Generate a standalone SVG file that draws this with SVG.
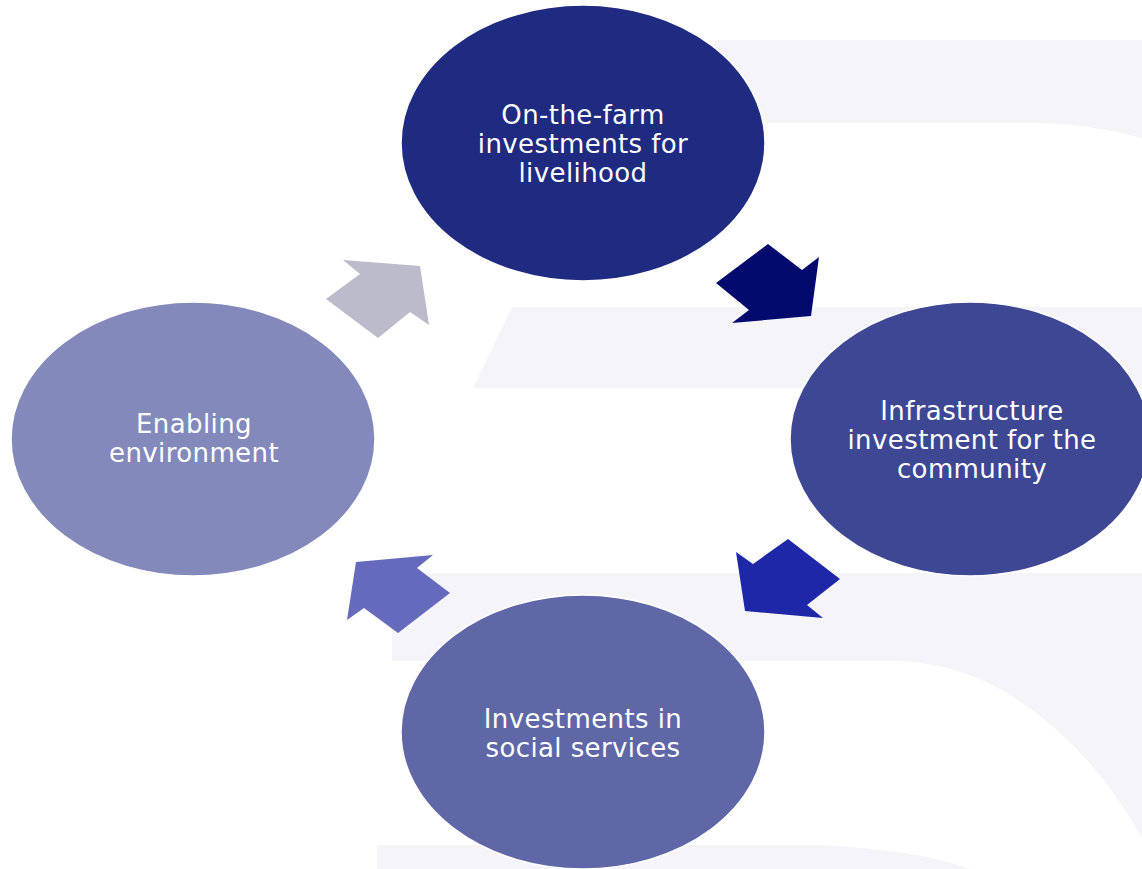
<svg xmlns="http://www.w3.org/2000/svg" width="1142" height="869" viewBox="0 0 1142 869">
<style>
.bg{fill:#f5f5f9}
.node{stroke:#ffffff;stroke-width:1.5}
.lbl{font-family:"DejaVu Sans",Verdana,sans-serif;font-size:26px;letter-spacing:0.4px;fill:#ffffff;text-anchor:middle}
</style>
<rect width="1142" height="869" fill="#ffffff"/>
<g id="watermark">
<path class="bg" d="M716,40 L1142,40 L1142,138 Q1090,124 1040,123 L690,123 Z"/>
<path class="bg" d="M512,307 L1142,307 L1142,388 L473,388 Z"/>
<path class="bg" d="M392,573 L1142,573 L1142,838 Q1090,745 1010,695 Q960,664 900,661 L392,661 Z"/>
<path class="bg" d="M377,845 L820,845 Q920,850 970,869 L377,869 Z"/>
</g>
<g id="connectors">
<polygon fill="#020b6d" points="768,244 802,270 819,257 811,316 732,323 749,310 716,283"/>
<polygon fill="#1f27a9" points="788,539 840,579 807,605 823,618 745,611 736,552 753,564"/>
<polygon fill="#656abc" points="356,562 433,555 417,568 450,593 398,633 364,608 347,620"/>
<polygon fill="#bbbbcb" points="343,260 420,266 429,325 410,312 378,338 326,299 360,274"/>
</g>
<g id="node-farm">
<ellipse class="node" cx="583" cy="143" rx="182" ry="138" fill="#1f2a81"/>
<text class="lbl" x="583" y="124">On-the-farm</text>
<text class="lbl" x="583" y="153">investments for</text>
<text class="lbl" x="583" y="182">livelihood</text>
</g>
<g id="node-infra">
<ellipse class="node" cx="970" cy="439" rx="180" ry="137" fill="#3d4793"/>
<text class="lbl" x="972" y="420">Infrastructure</text>
<text class="lbl" x="972" y="449">investment for the</text>
<text class="lbl" x="972" y="478">community</text>
</g>
<g id="node-social">
<ellipse class="node" cx="583" cy="732" rx="182" ry="137" fill="#5f67a6"/>
<text class="lbl" x="583" y="728">Investments in</text>
<text class="lbl" x="583" y="757">social services</text>
</g>
<g id="node-enabling">
<ellipse class="node" cx="193" cy="439" rx="182" ry="137" fill="#8389bb"/>
<text class="lbl" x="194" y="433">Enabling</text>
<text class="lbl" x="194" y="462">environment</text>
</g>
</svg>
